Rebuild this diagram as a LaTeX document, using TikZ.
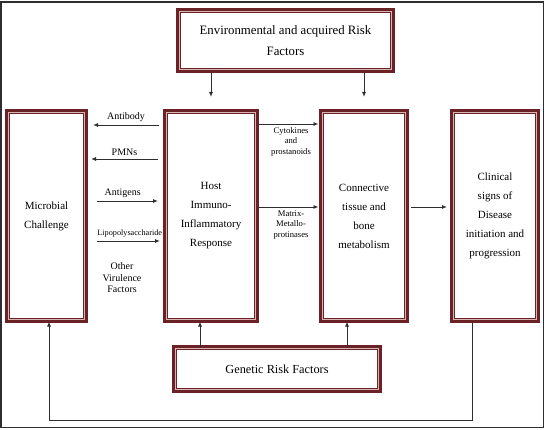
\documentclass[tikz,border=0pt]{standalone}
\usepackage{fontspec}
\setmainfont{Liberation Serif}
\usetikzlibrary{arrows.meta,calc}
\definecolor{maroon}{HTML}{6B2226}
\definecolor{pinkgap}{HTML}{D8B4B4}
\definecolor{linec}{HTML}{2E2E2E}
\begin{document}
\begin{tikzpicture}[x=1pt,y=-1pt,
  rbox/.style={draw=maroon,line width=3pt,inner sep=0pt,outer sep=0pt,align=center,
    font=\fontsize{11}{19}\selectfont},
  arr/.style={draw=linec,line width=0.9pt,-{Latex[length=5pt,width=4pt]}},
  lbl/.style={font=\fontsize{10}{11}\selectfont,inner sep=1pt,align=center},
  slbl/.style={font=\fontsize{8.6}{10.5}\selectfont,inner sep=1pt,align=center}]
\useasboundingbox (0,0) rectangle (545,430);
\draw[linec,line width=1.5pt] (1,2) rectangle (543.5,427.5);

\node[rbox,minimum width=216pt,minimum height=62pt,font=\fontsize{12.8}{21}\selectfont] (env) at (285.5,40.5) {Environmental and acquired Risk\\Factors};
\node[rbox,minimum width=80pt,minimum height=211pt] (mic) at (46.5,216) {Microbial\\Challenge};
\node[rbox,minimum width=93pt,minimum height=211pt] (host) at (211,216) {Host\\Immuno-\\Inflammatory\\Response};
\node[rbox,minimum width=87pt,minimum height=211pt] (conn) at (364,216) {Connective\\tissue and\\bone\\metabolism};
\node[rbox,minimum width=87pt,minimum height=211pt] (clin) at (495,216) {Clinical\\signs of\\Disease\\initiation and\\progression};
\node[rbox,minimum width=207pt,minimum height=45pt,font=\fontsize{12.3}{21}\selectfont] (gen) at (277,369) {Genetic Risk Factors};

\foreach \n in {env,mic,host,conn,clin,gen}{
  \draw[pinkgap,line width=1.2pt] ([shift={(2.1pt,2.1pt)}]\n.south west) rectangle ([shift={(-2.1pt,-2.1pt)}]\n.north east);
  \draw[maroon,line width=0.8pt] ([shift={(3.1pt,3.1pt)}]\n.south west) rectangle ([shift={(-3.1pt,-3.1pt)}]\n.north east);
}

% environment arrows
\draw[arr] (host.north |- env.south) -- ($(host.north)+(0,-13.5)$);
\draw[arr] (conn.north |- env.south) -- ($(conn.north)+(0,-13.5)$);

% host <-> microbial
\draw[arr] ($(host.west)+(-5.5,-91)$) -- node[lbl,above=1.5pt] {Antibody} ($(mic.east)+(6.5,-91)$);
\draw[arr] ($(host.west)+(-6.5,-57)$) -- node[lbl,above=1.5pt] {PMNs} ($(mic.east)+(4.5,-57)$);
\draw[arr] ($(mic.east)+(10.5,-15)$) -- node[lbl,above=1.5pt,pos=0.42] {Antigens} ($(host.west)+(-6.5,-15)$);
\draw[arr] ($(mic.east)+(10.5,25)$) -- node[slbl,font=\fontsize{8.2}{10}\selectfont,above=2pt,pos=0.52] {Lipopolysaccharide} ($(host.west)+(-4.5,25)$);
\node[lbl,font=\fontsize{10}{11.5}\selectfont] (vir) at (122,278) {Other\\Virulence\\Factors};

% host -> connective
\draw[arr] ($(host.east)+(0,-92)$) -- node[slbl,below=2pt,pos=0.55] {Cytokines\\and\\prostanoids} ($(conn.west)+(-2,-92)$);
\draw[arr] ($(host.east)+(0,-9)$) -- node[slbl,below=2pt,pos=0.55] {Matrix-\\Metallo-\\protinases} ($(conn.west)+(-2,-9)$);

% connective -> clinical
\draw[arr] ($(conn.east)+(3.5,-9)$) -- ($(clin.west)+(-4.5,-9)$);

% genetic arrows
\coordinate (g1) at ($(host.south)+(-11,0)$);
\coordinate (g2) at ($(conn.south)+(-17,0)$);
\draw[arr] (g1 |- gen.north) -- (g1);
\draw[arr] (g2 |- gen.north) -- (g2);

% feedback loop
\coordinate (c1) at ($(clin.south)+(-23,0)$);
\coordinate (m1) at ($(mic.south)+(2.5,0)$);
\draw[arr] (c1) -- ($(c1)+(0,99)$) -| (m1);
\end{tikzpicture}
\end{document}
